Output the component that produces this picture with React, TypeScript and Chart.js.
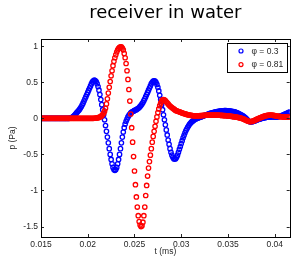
import React, { useEffect, useRef } from "react";
import { Chart, registerables } from "chart.js";

Chart.register(...registerables);

// sampling grid of the recorded signals (ms)
const T_START = 0.015;
const T_STEP = 0.0001;

const X_TICKS = [0.015, 0.02, 0.025, 0.03, 0.035, 0.04];
const Y_TICKS = [-1.5, -1, -0.5, 0, 0.5, 1];
const SERIES_LABELS = ["\u03c6 = 0.3", "\u03c6 = 0.81"];
const TITLE = "receiver in water";
const X_TITLE = "t (ms)";
const Y_TITLE = "p (Pa)";

// p (Pa), phi = 0.3
const P_PHI_03 = [
  0, 0, 0, 0, 0, 0, 0, 0, 0, 0,
  0, 0, 0, 0, 0, 0, 0, 0, 0, 0,
  0, 0, 0, 0, 0, 0, 0, 0, 0, 0,
  0, 0.002, 0.005, 0.01, 0.02, 0.03, 0.045, 0.06, 0.075, 0.09,
  0.105, 0.12, 0.14, 0.16, 0.185, 0.21, 0.24, 0.27, 0.3, 0.33,
  0.36, 0.39, 0.42, 0.45, 0.48, 0.505, 0.52, 0.53, 0.525, 0.51,
  0.48, 0.44, 0.39, 0.33, 0.26, 0.19, 0.12, 0.05, -0.02, -0.1,
  -0.18, -0.26, -0.34, -0.42, -0.5, -0.57, -0.63, -0.68, -0.71, -0.72,
  -0.71, -0.68, -0.63, -0.57, -0.5, -0.42, -0.34, -0.26, -0.19, -0.13,
  -0.08, -0.04, -0.01, 0.02, 0.04, 0.06, 0.075, 0.085, 0.095, 0.1,
  0.11, 0.115, 0.12, 0.13, 0.14, 0.15, 0.165, 0.18, 0.2, 0.22,
  0.245, 0.27, 0.3, 0.33, 0.36, 0.39, 0.42, 0.45, 0.48, 0.5,
  0.515, 0.52, 0.515, 0.5, 0.47, 0.43, 0.38, 0.32, 0.26, 0.19,
  0.12, 0.05, -0.02, -0.09, -0.16, -0.23, -0.3, -0.36, -0.42, -0.47,
  -0.51, -0.54, -0.56, -0.565, -0.56, -0.54, -0.51, -0.47, -0.43, -0.39,
  -0.35, -0.31, -0.27, -0.235, -0.2, -0.17, -0.145, -0.12, -0.1, -0.08,
  -0.065, -0.05, -0.04, -0.03, -0.02, -0.01, -0.005, 0, 0.005, 0.01,
  0.015, 0.02, 0.025, 0.03, 0.035, 0.04, 0.045, 0.05, 0.055, 0.06,
  0.065, 0.07, 0.073, 0.076, 0.08, 0.083, 0.086, 0.089, 0.092, 0.095,
  0.097, 0.099, 0.101, 0.103, 0.104, 0.105, 0.106, 0.106, 0.106, 0.105,
  0.104, 0.103, 0.101, 0.099, 0.097, 0.095, 0.092, 0.089, 0.085, 0.08,
  0.075, 0.07, 0.064, 0.057, 0.05, 0.042, 0.033, 0.024, 0.014, 0.004,
  -0.01, -0.025, -0.038, -0.045, -0.048, -0.048, -0.046, -0.042, -0.037, -0.032,
  -0.027, -0.022, -0.017, -0.012, -0.008, -0.004, 0, 0.003, 0.006, 0.009,
  0.012, 0.014, 0.016, 0.018, 0.019, 0.02, 0.021, 0.021, 0.021, 0.021,
  0.02, 0.02, 0.02, 0.021, 0.023, 0.026, 0.03, 0.035, 0.04, 0.046,
  0.052, 0.058, 0.064, 0.07, 0.076, 0.082, 0.088,
];

// p (Pa), phi = 0.81
const P_PHI_081 = [
  0, 0, 0, 0, 0, 0, 0, 0, 0, 0,
  0, 0, 0, 0, 0, 0, 0, 0, 0, 0,
  0, 0, 0, 0, 0, 0, 0, 0, 0, 0,
  0, 0, 0, 0, 0, 0, 0, 0, 0, 0,
  0, 0, 0, 0, 0, 0, 0, 0, 0, 0,
  0, 0, 0, 0, 0, 0, 0, 0.001, 0.002, 0.004,
  0.006, 0.009, 0.013, 0.018, 0.026, 0.037, 0.052, 0.072, 0.1, 0.14,
  0.2, 0.27, 0.35, 0.43, 0.51, 0.59, 0.66, 0.73, 0.79, 0.84,
  0.88, 0.92, 0.95, 0.97, 0.985, 0.99, 0.99, 0.975, 0.95, 0.9,
  0.84, 0.76, 0.66, 0.54, 0.4, 0.24, 0.06, -0.13, -0.33, -0.53,
  -0.73, -0.92, -1.09, -1.23, -1.35, -1.43, -1.48, -1.5, -1.49, -1.44,
  -1.35, -1.23, -1.07, -0.93, -0.8, -0.69, -0.6, -0.51, -0.42, -0.33,
  -0.25, -0.18, -0.11, -0.04, 0.02, 0.08, 0.13, 0.175, 0.21, 0.24,
  0.255, 0.26, 0.255, 0.245, 0.23, 0.215, 0.2, 0.185, 0.17, 0.16,
  0.15, 0.14, 0.13, 0.12, 0.11, 0.105, 0.1, 0.095, 0.09, 0.085,
  0.08, 0.075, 0.07, 0.066, 0.062, 0.058, 0.054, 0.05, 0.047, 0.044,
  0.042, 0.04, 0.038, 0.036, 0.035, 0.034, 0.034, 0.034, 0.035, 0.036,
  0.037, 0.038, 0.039, 0.04, 0.041, 0.042, 0.043, 0.044, 0.045, 0.045,
  0.046, 0.046, 0.046, 0.046, 0.046, 0.046, 0.045, 0.045, 0.045, 0.044,
  0.044, 0.043, 0.042, 0.041, 0.04, 0.039, 0.038, 0.037, 0.036, 0.035,
  0.034, 0.033, 0.031, 0.029, 0.027, 0.025, 0.023, 0.021, 0.019, 0.017,
  0.015, 0.012, 0.009, 0.006, 0.002, -0.002, -0.007, -0.012, -0.018, -0.024,
  -0.03, -0.036, -0.041, -0.044, -0.045, -0.044, -0.041, -0.036, -0.03, -0.024,
  -0.018, -0.012, -0.006, 0, 0.006, 0.012, 0.017, 0.022, 0.027, 0.031,
  0.035, 0.038, 0.041, 0.043, 0.044, 0.045, 0.045, 0.044, 0.042, 0.04,
  0.038, 0.035, 0.032, 0.03, 0.028, 0.026, 0.024, 0.022, 0.021, 0.02,
  0.019, 0.018, 0.018, 0.017, 0.017, 0.016, 0.016,
];

const COLORS = ["#0000ff", "#ff0000"];
const FONT = "'Liberation Sans', Arial, sans-serif";
const TITLE_FONT = "'DejaVu Sans', sans-serif";
const TEXT_COLOR = "#262626";

const toPoints = (vals: number[]) =>
  vals.map((v, i) => ({ x: T_START + i * T_STEP, y: v }));

const boxAndTicks = {
  id: "boxAndTicks",
  afterDatasetsDraw(chart: any) {
    const { ctx, chartArea: a, scales } = chart;
    ctx.save();
    ctx.strokeStyle = TEXT_COLOR;
    ctx.lineWidth = 1;
    const L = 3;
    ctx.beginPath();
    for (const v of X_TICKS) {
      const px = Math.round(scales.x.getPixelForValue(v)) + 0.5;
      ctx.moveTo(px, a.bottom);
      ctx.lineTo(px, a.bottom - L);
      ctx.moveTo(px, a.top);
      ctx.lineTo(px, a.top + L);
    }
    for (const v of Y_TICKS) {
      const py = Math.round(scales.y.getPixelForValue(v)) + 0.5;
      ctx.moveTo(a.left, py);
      ctx.lineTo(a.left + L, py);
      ctx.moveTo(a.right, py);
      ctx.lineTo(a.right - L, py);
    }
    ctx.stroke();
    ctx.strokeStyle = "#000";
    ctx.lineWidth = 1;
    ctx.strokeRect(
      Math.round(a.left) + 0.5,
      Math.round(a.top) + 0.5,
      Math.round(a.right - a.left),
      Math.round(a.bottom - a.top)
    );

    // legend box, top right inside the axes
    const w = 60;
    const h = 29;
    const bx = Math.round(a.right - 3 - w) + 0.5;
    const by = Math.round(a.top + 4) + 0.5;
    ctx.fillStyle = "#fff";
    ctx.fillRect(bx, by, w, h);
    ctx.strokeStyle = "#000";
    ctx.strokeRect(bx, by, w, h);
    ctx.font = `8.5px ${FONT}`;
    ctx.textBaseline = "middle";
    ctx.textAlign = "left";
    SERIES_LABELS.forEach((label, i) => {
      const cy = by + 7.5 + i * 13.6;
      ctx.beginPath();
      ctx.arc(bx + 13.5, cy, 2, 0, Math.PI * 2);
      ctx.strokeStyle = COLORS[i];
      ctx.lineWidth = 1.2;
      ctx.stroke();
      ctx.fillStyle = TEXT_COLOR;
      ctx.fillText(label, bx + 24, cy + 0.5);
    });
    ctx.restore();
  },
};

export default function App() {
  const ref = useRef<HTMLCanvasElement | null>(null);

  useEffect(() => {
    document.body.style.margin = "0";
    const canvas = ref.current;
    if (!canvas) return;
    const chart = new Chart(canvas, {
      type: "scatter",
      data: {
        datasets: [
          {
            label: SERIES_LABELS[0],
            data: toPoints(P_PHI_03),
            borderColor: COLORS[0],
            backgroundColor: "rgba(0,0,0,0)",
            pointRadius: 2.2,
            pointBorderWidth: 1.3,
            showLine: false,
            order: 2,
          },
          {
            label: SERIES_LABELS[1],
            data: toPoints(P_PHI_081),
            borderColor: COLORS[1],
            backgroundColor: "rgba(0,0,0,0)",
            pointRadius: 2.2,
            pointBorderWidth: 1.3,
            showLine: false,
            order: 1,
          },
        ],
      },
      options: {
        animation: false,
        responsive: false,
        devicePixelRatio: 1,
        layout: { padding: { left: 0, right: 4, top: 0, bottom: 0 } },
        plugins: {
          legend: { display: false },
          tooltip: { enabled: false },
          title: {
            display: true,
            fullSize: false,
            text: TITLE,
            color: "#000",
            font: { family: TITLE_FONT, size: 18, weight: "normal" },
            padding: { top: 3, bottom: 14.4 },
          },
        },
        scales: {
          x: {
            type: "linear",
            min: 0.015,
            max: 0.0416,
            afterBuildTicks: (s: any) => {
              s.ticks = X_TICKS.map((v) => ({ value: v }));
            },
            afterFit: (s: any) => {
              s.height = 21;
            },
            grid: { display: true, drawOnChartArea: false, drawTicks: false },
            border: { display: false },
            ticks: {
              padding: 3,
              color: TEXT_COLOR,
              font: { family: FONT, size: 8.5 },
              maxRotation: 0,
              autoSkip: false,
              callback: (v: any) => String(v),
            },
            title: {
              display: true,
              text: X_TITLE,
              color: TEXT_COLOR,
              font: { family: FONT, size: 8.5 },
              padding: { top: 0, bottom: 1 },
            },
          },
          y: {
            type: "linear",
            min: -1.645,
            max: 1.1,
            afterBuildTicks: (s: any) => {
              s.ticks = Y_TICKS.map((v) => ({ value: v }));
            },
            afterFit: (s: any) => {
              s.width = 41;
            },
            grid: { display: true, drawOnChartArea: false, drawTicks: false },
            border: { display: false },
            ticks: {
              padding: 3,
              color: TEXT_COLOR,
              font: { family: FONT, size: 8.5 },
              autoSkip: false,
              callback: (v: any) => String(v),
            },
            title: {
              display: true,
              text: Y_TITLE,
              color: TEXT_COLOR,
              font: { family: FONT, size: 8.5 },
              padding: { top: 8, bottom: 0 },
            },
          },
        },
      },
      plugins: [boxAndTicks],
    } as any);
    return () => chart.destroy();
  }, []);

  return (
    <div style={{ position: "fixed", left: 0, top: 0, width: 295, height: 258, background: "#fff" }}>
      <canvas ref={ref} width={295} height={258} style={{ width: 295, height: 258, display: "block" }} />
    </div>
  );
}
